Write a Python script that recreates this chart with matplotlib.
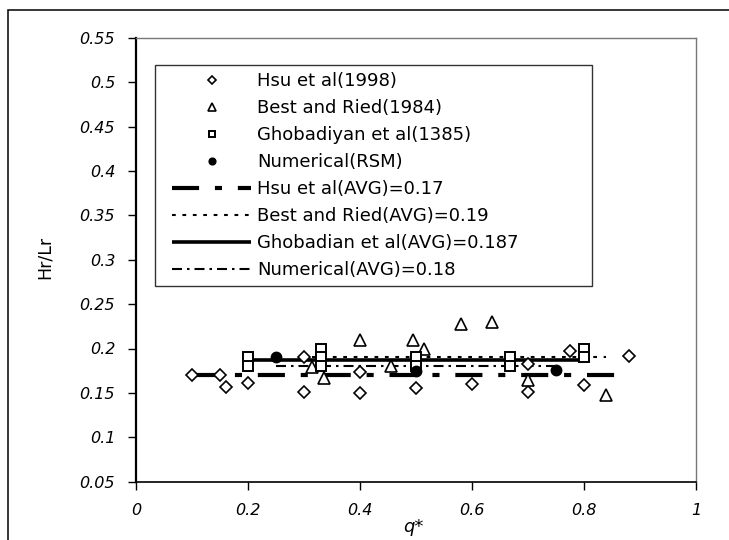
import numpy as np
import matplotlib
matplotlib.use("Agg")
import matplotlib.pyplot as plt
from matplotlib.patches import Rectangle
from matplotlib.lines import Line2D
from matplotlib.legend_handler import HandlerLine2D

hsu_x = [0.1, 0.15, 0.16, 0.2, 0.3, 0.3, 0.4, 0.4, 0.5, 0.6, 0.7, 0.7, 0.775, 0.8, 0.88]
hsu_y = [0.17, 0.17, 0.157, 0.161, 0.19, 0.151, 0.173, 0.15, 0.155, 0.16, 0.183, 0.151, 0.197, 0.159, 0.192]

best_x = [0.315, 0.335, 0.4, 0.455, 0.495, 0.515, 0.58, 0.635, 0.7, 0.84]
best_y = [0.179, 0.167, 0.21, 0.18, 0.21, 0.199, 0.228, 0.23, 0.165, 0.148]

ghob_x = [0.2, 0.2, 0.33, 0.33, 0.33, 0.5, 0.5, 0.667, 0.667, 0.8, 0.8]
ghob_y = [0.19, 0.18, 0.2, 0.19, 0.18, 0.19, 0.18, 0.19, 0.18, 0.2, 0.19]

rsm_x = [0.25, 0.5, 0.75]
rsm_y = [0.19, 0.175, 0.176]

# average lines: value and x extent
avg_hsu, hsu_span = 0.17, [0.1, 0.88]
avg_best, best_span = 0.19, [0.315, 0.84]
avg_ghob, ghob_span = 0.187, [0.2, 0.8]
avg_num, num_span = 0.18, [0.25, 0.75]

yticks = [0.05, 0.1, 0.15, 0.2, 0.25, 0.3, 0.35, 0.4, 0.45, 0.5, 0.55]
ytick_labels = ['0.05', '0.1', '0.15', '0.2', '0.25', '0.3', '0.35', '0.4', '0.45', '0.5', '0.55']
xticks = [0, 0.2, 0.4, 0.6, 0.8, 1]
xtick_labels = ['0', '0.2', '0.4', '0.6', '0.8', '1']

fig = plt.figure(figsize=(7.29, 5.4), dpi=100)
ax = fig.add_axes([136/729, 58.3/540, 560/729, 444/540])

# outer frame (cut off at right and bottom like the reference)
fig.patches.append(Rectangle((8/729, -0.1), 1.2, 530/540 + 0.1, transform=fig.transFigure,
                             fill=False, edgecolor='black', linewidth=1.1))

# average lines
l_hsu, = ax.plot(hsu_span, [avg_hsu]*2, color='black', lw=3, dashes=(6.5, 3.8, 1.7, 3.8),
                 dash_capstyle='butt', zorder=2)
l_best, = ax.plot(best_span, [avg_best]*2, color='black', lw=1.5, dashes=(1.8, 3.2), zorder=2)
l_ghob, = ax.plot(ghob_span, [avg_ghob]*2, color='black', lw=2.6, solid_capstyle='butt', zorder=2)
l_num, = ax.plot(num_span, [avg_num]*2, color='black', lw=1.5, dashes=(4.8, 2.4, 1.2, 2.4), zorder=2)

# data points
m_hsu, = ax.plot(hsu_x, hsu_y, 'D', ms=5.8, mfc='white', mec='black', mew=1.2, ls='none', zorder=3)
m_best, = ax.plot(best_x, best_y, '^', ms=8.5, mfc='white', mec='black', mew=1.2, ls='none', zorder=3)
m_ghob, = ax.plot(ghob_x, ghob_y, 's', ms=6.5, mfc='white', mec='black', mew=1.4, ls='none', zorder=3)
m_rsm, = ax.plot(rsm_x, rsm_y, 'o', ms=7.5, mfc='black', mec='black', ls='none', zorder=4)

ax.set_xlim(0, 1)
ax.set_ylim(0.05, 0.55)
ax.set_xticks(xticks)
ax.set_xticklabels(xtick_labels, fontstyle='italic')
ax.set_yticks(yticks)
ax.set_yticklabels(ytick_labels, fontstyle='italic')
ax.tick_params(direction='out', length=6, width=1, pad=9, labelsize=11.5, colors='black')

for s in ['left', 'bottom']:
    ax.spines[s].set_color('black')
ax.spines['left'].set_linewidth(1.6)
ax.spines['bottom'].set_linewidth(1.2)
for s in ['top', 'right']:
    ax.spines[s].set_color('#777777')
    ax.spines[s].set_linewidth(1.0)

ax.set_ylabel('Hr/Lr', fontsize=12.5, va='center', ha='center')
ax.yaxis.set_label_coords(-0.1625, 0.504)
ax.set_xlabel('q*', fontsize=13, fontstyle='italic', va='center', ha='center')
ax.xaxis.set_label_coords(0.496, -0.102)

handles = [m_hsu, m_best, m_ghob, m_rsm, l_hsu, l_best, l_ghob, l_num]
labels = ['Hsu et al(1998)', 'Best and Ried(1984)', 'Ghobadiyan et al(1385)', 'Numerical(RSM)',
          'Hsu et al(AVG)=0.17', 'Best and Ried(AVG)=0.19', 'Ghobadian et al(AVG)=0.187',
          'Numerical(AVG)=0.18']
leg = ax.legend(handles, labels, loc='upper left', bbox_to_anchor=(0.034, 0.0, 0.78, 0.9385),
                mode='expand', borderaxespad=0, frameon=True, fancybox=False, edgecolor='black',
                fontsize=13, handlelength=4.96, handletextpad=0.33, labelspacing=0.5,
                borderpad=0.38, markerscale=0.65,
                handler_map={Line2D: HandlerLine2D(xpad=0.57)})
leg.get_frame().set_linewidth(1.0)

fig.savefig('out.png', dpi=100)
